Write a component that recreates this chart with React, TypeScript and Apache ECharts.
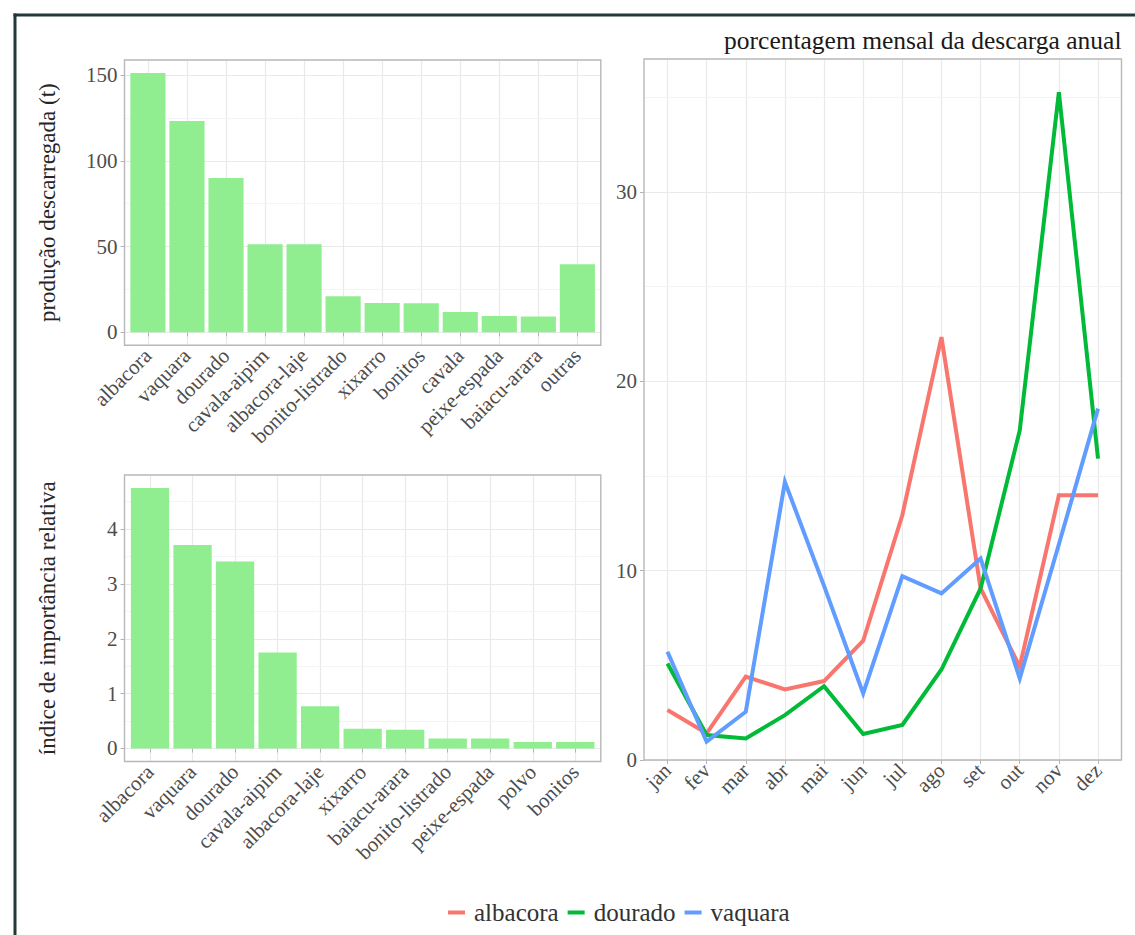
import React, { useEffect, useRef } from 'react';
import * as echarts from 'echarts';

// ---------- data ----------
const cats1 = ['albacora', 'vaquara', 'dourado', 'cavala-aipim', 'albacora-laje', 'bonito-listrado', 'xixarro', 'bonitos', 'cavala', 'peixe-espada', 'baiacu-arara', 'outras'];
const vals1 = [151.2, 123.2, 89.9, 51.4, 51.4, 21.0, 17.1, 17.0, 11.9, 9.5, 9.3, 39.7];

const cats2 = ['albacora', 'vaquara', 'dourado', 'cavala-aipim', 'albacora-laje', 'xixarro', 'baiacu-arara', 'bonito-listrado', 'peixe-espada', 'polvo', 'bonitos'];
const vals2 = [4.75, 3.71, 3.41, 1.75, 0.77, 0.36, 0.34, 0.18, 0.18, 0.12, 0.12];

const months = ['jan', 'fev', 'mar', 'abr', 'mai', 'jun', 'jul', 'ago', 'set', 'out', 'nov', 'dez'];
const albacora = [2.64, 1.41, 4.4, 3.73, 4.17, 6.3, 12.93, 22.34, 9.06, 4.93, 13.98, 13.98];
const dourado = [5.1, 1.32, 1.14, 2.37, 3.9, 1.37, 1.85, 4.78, 9.06, 17.41, 35.27, 15.92];
const vaquara = [5.72, 0.97, 2.55, 14.69, 9.2, 3.52, 9.71, 8.8, 10.64, 4.31, 11.4, 18.56];

const ticks1 = [0, 50, 100, 150];
const minor1 = [25, 75, 125];
const ticks2 = [0, 1, 2, 3, 4];
const minor2 = [0.5, 1.5, 2.5, 3.5, 4.5];
const ticks3 = [0, 10, 20, 30];
const minor3 = [5, 15, 25, 35];

const yTitle1 = 'produção descarregada (t)';
const yTitle2 = 'índice de importância relativa';
const title3 = 'porcentagem mensal da descarga anual';
const seriesNames = ['albacora', 'dourado', 'vaquara'];

// ---------- layout / style ----------
const FONT = "'Liberation Serif', 'Times New Roman', serif";
const GRID_MAJOR = '#e9e9e9';
const GRID_MINOR = '#f4f4f4';
const BORDER = '#b8b8b8';
const TICK_COL = '#b3b3b3';
const TXT = '#4d4d4d';
const BAR = '#90EE90';
const COLORS = ['#F8766D', '#00BA38', '#619CFF'];

const P1 = { L: 124.5, R: 600.8, T: 60, B: 345.3, min: -7.56, max: 158.76 };
const P2 = { L: 124.5, R: 600.8, T: 475, B: 761.5, min: -0.2375, max: 4.9875 };
const P3 = { L: 644, R: 1121.5, T: 59, B: 760, min: 0, max: 37.03 };

function frameAxes(P: any, gi: number, ticks: number[]) {
  const x = { gridIndex: gi, type: 'value', min: 0, max: 1, show: false };
  const y = {
    gridIndex: gi,
    type: 'value',
    min: P.min,
    max: P.max,
    axisLine: { show: false },
    splitLine: { show: false },
    axisTick: { show: true, length: 4, customValues: ticks, lineStyle: { color: TICK_COL, width: 1 } },
    axisLabel: {
      customValues: ticks,
      margin: 7,
      fontSize: 21,
      color: TXT,
      fontFamily: FONT,
      formatter: (v: number) => (ticks.indexOf(v) >= 0 ? String(v) : ''),
    },
  };
  return { x, y };
}

function catAxes(P: any, gi: number, cats: string[]) {
  const x = {
    gridIndex: gi,
    type: 'category',
    data: cats,
    boundaryGap: false,
    axisLine: { show: false },
    axisTick: { show: true, interval: 0, length: 4, lineStyle: { color: TICK_COL, width: 1 } },
    axisLabel: { interval: 0, rotate: 45, margin: 7, fontSize: 21, color: TXT, fontFamily: FONT },
    splitLine: { show: true, interval: 0, lineStyle: { color: GRID_MAJOR, width: 1.2 } },
  };
  const y = { gridIndex: gi, type: 'value', min: P.min, max: P.max, show: false };
  return { x, y };
}

function gridLines(gi: number, major: number[], minor: number[]) {
  return {
    type: 'line',
    xAxisIndex: gi,
    yAxisIndex: gi,
    data: [],
    silent: true,
    z: 0,
    markLine: {
      silent: true,
      z: 0,
      symbol: ['none', 'none'],
      label: { show: false },
      emphasis: { disabled: true },
      data: [
        ...minor.map((v) => ({ yAxis: v, lineStyle: { color: GRID_MINOR, width: 1, type: 'solid' } })),
        ...major.map((v) => ({ yAxis: v, lineStyle: { color: GRID_MAJOR, width: 1.2, type: 'solid' } })),
      ],
    },
  };
}

function buildOption() {
  const p1 = (P1.R - P1.L) / (cats1.length + 0.2);
  const p2 = (P2.R - P2.L) / (cats2.length + 0.2);
  const p3 = (P3.R - P3.L) / (months.length + 0.2);

  const grids = [
    { left: P1.L, top: P1.T, width: P1.R - P1.L, height: P1.B - P1.T },
    { left: P1.L + 0.6 * p1, top: P1.T, width: (cats1.length - 1) * p1, height: P1.B - P1.T },
    { left: P2.L, top: P2.T, width: P2.R - P2.L, height: P2.B - P2.T },
    { left: P2.L + 0.6 * p2, top: P2.T, width: (cats2.length - 1) * p2, height: P2.B - P2.T },
    { left: P3.L, top: P3.T, width: P3.R - P3.L, height: P3.B - P3.T },
    { left: P3.L + 0.6 * p3, top: P3.T, width: (months.length - 1) * p3, height: P3.B - P3.T },
  ];

  const f1 = frameAxes(P1, 0, ticks1);
  const c1 = catAxes(P1, 1, cats1);
  const f2 = frameAxes(P2, 2, ticks2);
  const c2 = catAxes(P2, 3, cats2);
  const f3 = frameAxes(P3, 4, ticks3);
  const c3 = catAxes(P3, 5, months);

  const lineSeries = [albacora, dourado, vaquara].map((d, i) => ({
    name: seriesNames[i],
    type: 'line',
    xAxisIndex: 5,
    yAxisIndex: 5,
    data: d,
    showSymbol: false,
    symbol: 'none',
    z: 5 + i,
    lineStyle: { width: 4, color: COLORS[i], cap: 'butt', join: 'miter' },
    itemStyle: { color: COLORS[i] },
  }));

  const panelRect = (P: any) => ({
    type: 'rect',
    silent: true,
    z: 50,
    shape: { x: P.L, y: P.T, width: P.R - P.L, height: P.B - P.T },
    style: { fill: 'none', stroke: BORDER, lineWidth: 1.4 },
  });

  return {
    animation: false,
    backgroundColor: '#ffffff',
    textStyle: { fontFamily: FONT },
    title: {
      text: title3,
      right: 1135 - P3.R,
      top: 27,
      padding: 0,
      textStyle: { fontSize: 25.5, fontWeight: 'normal', color: '#1a1a1a', fontFamily: FONT },
    },
    legend: {
      data: seriesNames,
      left: 448,
      top: 900,
      padding: 0,
      itemWidth: 17,
      itemHeight: 4,
      itemGap: 9,
      icon: 'rect',
      selectedMode: false,
      textStyle: { fontSize: 25, color: '#333333', fontFamily: FONT, padding: [0, 0, 0, 4] },
    },
    grid: grids,
    xAxis: [f1.x, c1.x, f2.x, c2.x, f3.x, c3.x],
    yAxis: [f1.y, c1.y, f2.y, c2.y, f3.y, c3.y],
    series: [
      gridLines(0, ticks1, minor1),
      {
        type: 'bar',
        xAxisIndex: 1,
        yAxisIndex: 1,
        data: vals1,
        barWidth: 0.9 * p1,
        clip: false,
        z: 3,
        itemStyle: { color: BAR },
      },
      gridLines(2, ticks2, minor2),
      {
        type: 'bar',
        xAxisIndex: 3,
        yAxisIndex: 3,
        data: vals2,
        barWidth: 0.9 * p2,
        clip: false,
        z: 3,
        itemStyle: { color: BAR },
      },
      gridLines(4, ticks3, minor3),
      ...lineSeries,
    ],
    graphic: [
      panelRect(P1),
      panelRect(P2),
      panelRect(P3),
      {
        type: 'text',
        x: 47,
        y: (P1.T + P1.B) / 2,
        rotation: Math.PI / 2,
        silent: true,
        style: { text: yTitle1, fontSize: 23, fontFamily: FONT, fill: '#262626', align: 'center', verticalAlign: 'middle' },
      },
      {
        type: 'text',
        x: 47,
        y: (P2.T + P2.B) / 2,
        rotation: Math.PI / 2,
        silent: true,
        style: { text: yTitle2, fontSize: 23, fontFamily: FONT, fill: '#262626', align: 'center', verticalAlign: 'middle' },
      },
      {
        type: 'line',
        silent: true,
        z: 60,
        shape: { x1: 13.5, y1: 15, x2: 1135, y2: 15 },
        style: { stroke: '#233838', lineWidth: 3 },
      },
      {
        type: 'line',
        silent: true,
        z: 60,
        shape: { x1: 15, y1: 13.5, x2: 15, y2: 935 },
        style: { stroke: '#233838', lineWidth: 3 },
      },
    ],
  };
}

export default function App() {
  const ref = useRef<HTMLDivElement>(null);
  useEffect(() => {
    if (!ref.current) return;
    const chart = echarts.init(ref.current, undefined, { renderer: 'svg' });
    chart.setOption(buildOption() as any);
    return () => chart.dispose();
  }, []);
  return (
    <div
      ref={ref}
      style={{ position: 'absolute', left: 0, top: 0, width: 1135, height: 935, background: '#fff' }}
    />
  );
}
